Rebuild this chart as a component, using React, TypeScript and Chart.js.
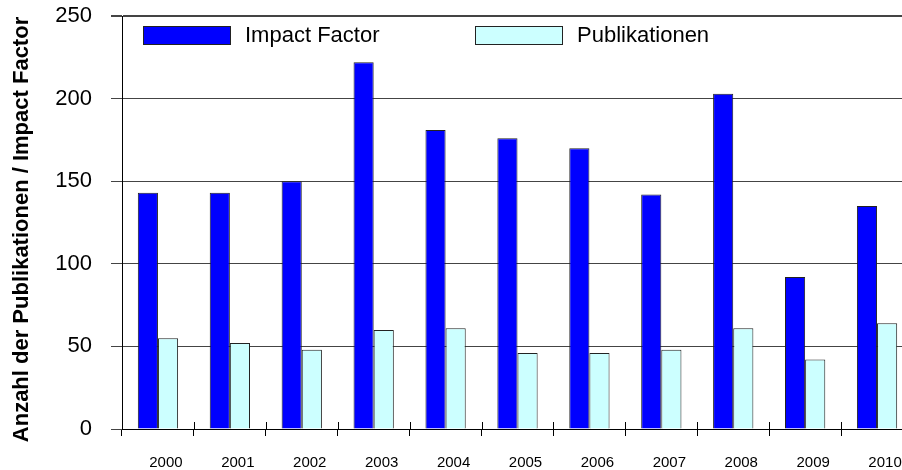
import React, { useEffect, useRef } from "react";
import { Chart, registerables } from "chart.js";

Chart.register(...registerables);

const years = ["2000", "2001", "2002", "2003", "2004", "2005", "2006", "2007", "2008", "2009", "2010"];
const impactFactor = [143, 143, 150, 222, 181, 176, 170, 142, 203, 92, 135];
const publikationen = [55, 52, 48, 60, 61, 46, 46, 48, 61, 42, 64];
const seriesNames = ["Impact Factor", "Publikationen"];
const yMin = 0;
const yMax = 250;
const yStep = 50;
const yTitle = "Anzahl der Publikationen / Impact Factor";

const FONT = "'Liberation Sans', Arial, Helvetica, sans-serif";

const insideLegend = {
  id: "insideLegend",
  afterDraw(chart: any) {
    const { ctx, chartArea } = chart;
    const offsets = [21, 353];
    ctx.save();
    chart.data.datasets.forEach((ds: any, i: number) => {
      const bx = chartArea.left + offsets[i];
      const by = chartArea.top + 10;
      ctx.fillStyle = ds.backgroundColor;
      ctx.fillRect(bx + 0.5, by + 0.5, 87, 18);
      ctx.strokeStyle = "#222";
      ctx.lineWidth = 1;
      ctx.strokeRect(bx + 0.5, by + 0.5, 87, 18);
      ctx.fillStyle = "#000";
      ctx.font = `22px ${FONT}`;
      ctx.textBaseline = "middle";
      ctx.textAlign = "left";
      ctx.fillText(ds.label, bx + 102, by + 10);
    });
    ctx.restore();
  },
};

const yTitlePlugin = {
  id: "yTitlePlugin",
  afterDraw(chart: any) {
    const { ctx, chartArea } = chart;
    ctx.save();
    ctx.translate(21.5, (chartArea.top + chartArea.bottom) / 2 + 7);
    ctx.rotate(-Math.PI / 2);
    ctx.fillStyle = "#000";
    ctx.font = `bold 22px ${FONT}`;
    ctx.textAlign = "center";
    ctx.textBaseline = "middle";
    ctx.fillText(yTitle, 0, 0);
    ctx.restore();
  },
};

const upTicks = {
  id: "upTicks",
  afterDraw(chart: any) {
    const { ctx, chartArea } = chart;
    const n = chart.data.labels.length;
    const step = (chartArea.right - chartArea.left) / n;
    ctx.save();
    ctx.strokeStyle = "#000";
    ctx.lineWidth = 1;
    ctx.beginPath();
    for (let i = 1; i <= n; i++) {
      const x = Math.round(chartArea.left + i * step) + 0.5;
      ctx.moveTo(x, chartArea.bottom);
      ctx.lineTo(x, chartArea.bottom - 7);
    }
    ctx.stroke();
    ctx.restore();
  },
};

export default function App() {
  const ref = useRef<HTMLCanvasElement>(null);
  useEffect(() => {
    document.body.style.margin = "0";
    document.body.style.overflow = "hidden";
    const chart = new Chart(ref.current as HTMLCanvasElement, {
      type: "bar",
      data: {
        labels: years,
        datasets: [
          {
            label: seriesNames[0],
            data: impactFactor,
            backgroundColor: "#0000FF",
            borderColor: "#222",
            borderWidth: 1,
            categoryPercentage: 0.56,
            barPercentage: 1,
          },
          {
            label: seriesNames[1],
            data: publikationen,
            backgroundColor: "#CCFFFF",
            borderColor: "#222",
            borderWidth: 1,
            categoryPercentage: 0.56,
            barPercentage: 1,
          },
        ],
      },
      options: {
        responsive: false,
        animation: false,
        layout: { autoPadding: false, padding: { top: 16, left: 0, right: 0, bottom: 0 } },
        plugins: {
          legend: { display: false },
          tooltip: { enabled: false },
        },
        scales: {
          x: {
            offset: true,
            afterFit: (s: any) => {
              s.height = 41;
              s.paddingLeft = 0;
              s.paddingRight = 0;
            },
            grid: {
              offset: true,
              drawOnChartArea: false,
              drawTicks: true,
              tickLength: 7,
              color: "#000",
            },
            border: { color: "#000", width: 1 },
            ticks: {
              color: "#000",
              font: { family: FONT, size: 15 },
              padding: 18,
              labelOffset: 8,
              maxRotation: 0,
              autoSkip: false,
            },
          },
          y: {
            min: yMin,
            max: yMax,
            afterFit: (s: any) => {
              s.width = 122;
              s.paddingTop = 0;
              s.paddingBottom = 0;
            },
            grid: {
              color: "#444",
              lineWidth: (c: any) => (c.tick && c.tick.value === yMax ? 2 : 1),
              tickLength: 11,
            },
            border: { color: "#000", width: 1 },
            ticks: {
              stepSize: yStep,
              color: "#000",
              font: { family: FONT, size: 22 },
              padding: 19,
            },
            title: { display: false },
          },
        },
      },
      plugins: [insideLegend, upTicks, yTitlePlugin],
    });
    return () => chart.destroy();
  }, []);
  return (
    <div style={{ width: 902, height: 470, overflow: "hidden" }}>
      <canvas ref={ref} width={913} height={470} style={{ display: "block" }} />
    </div>
  );
}
